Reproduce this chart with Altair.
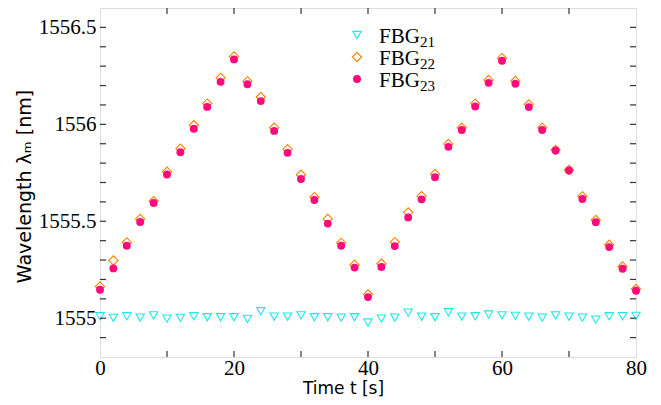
import altair as alt
import pandas as pd

# Time axis [s]
time_s = [0, 2, 4, 6, 8, 10, 12, 14, 16, 18, 20, 22, 24, 26, 28, 30, 32, 34, 36, 38, 40,
          42, 44, 46, 48, 50, 52, 54, 56, 58, 60, 62, 64, 66, 68, 70, 72, 74, 76, 78, 80]

fbg21 = [1555.010, 1555.002, 1555.010, 1555.003, 1555.015, 1554.998, 1555.002, 1555.010,
         1555.005, 1555.005, 1555.005, 1554.997, 1555.036, 1555.008, 1555.008, 1555.015,
         1555.005, 1555.005, 1555.003, 1555.005, 1554.978, 1554.998, 1555.003, 1555.029,
         1555.008, 1555.005, 1555.031, 1555.008, 1555.010, 1555.019, 1555.015, 1555.012,
         1555.008, 1555.003, 1555.015, 1555.008, 1555.003, 1554.993, 1555.010, 1555.010,
         1555.012]

fbg22 = [1555.164, 1555.298, 1555.391, 1555.512, 1555.604, 1555.756, 1555.875, 1555.996,
         1556.107, 1556.240, 1556.350, 1556.222, 1556.141, 1555.983, 1555.872, 1555.740,
         1555.625, 1555.512, 1555.389, 1555.276, 1555.123, 1555.281, 1555.393, 1555.546,
         1555.630, 1555.744, 1555.899, 1555.983, 1556.107, 1556.229, 1556.342, 1556.224,
         1556.103, 1555.983, 1555.868, 1555.765, 1555.629, 1555.507, 1555.379, 1555.267,
         1555.151]

fbg23 = [1555.147, 1555.257, 1555.374, 1555.496, 1555.594, 1555.741, 1555.856, 1555.977,
         1556.090, 1556.219, 1556.335, 1556.207, 1556.120, 1555.966, 1555.853, 1555.718,
         1555.610, 1555.488, 1555.374, 1555.261, 1555.109, 1555.264, 1555.372, 1555.520,
         1555.613, 1555.727, 1555.884, 1555.971, 1556.092, 1556.214, 1556.328, 1556.209,
         1556.089, 1555.971, 1555.865, 1555.762, 1555.615, 1555.495, 1555.367, 1555.255,
         1555.142]

x_label_values = [0, 20, 40, 60, 80]
y_label_values = [1555.0, 1555.5, 1556.0, 1556.5]
x_minor_ticks = [10, 20, 30, 40, 50, 60, 70]
y_minor_ticks = [1554.9, 1555.0, 1555.1, 1555.2, 1555.3, 1555.4, 1555.5, 1555.6, 1555.7,
                 1555.8, 1555.9, 1556.0, 1556.1, 1556.2, 1556.3, 1556.4, 1556.5]

legend_names = ["FBG", "FBG", "FBG"]
legend_subs = ["21", "22", "23"]

CYAN = "#1ee8e8"
ORANGE = "#ff8000"
PINK = "#ff0a7c"

W, H = 536, 349
X_DOM = [0, 80]
Y_DOM = [1554.8, 1556.6]

df = pd.DataFrame({"t": time_s, "fbg21": fbg21, "fbg22": fbg22, "fbg23": fbg23})

xs = alt.Scale(domain=X_DOM, nice=False, zero=False)
ys = alt.Scale(domain=Y_DOM, nice=False, zero=False)

x_axis = alt.Axis(values=x_label_values, ticks=False, domain=False, grid=False,
                  labelFont="Liberation Serif", labelFontSize=21, labelColor="black",
                  labelPadding=0, labelFlush=False,
                  title="Time t [s]", titleFont="DejaVu Sans", titleFontSize=17,
                  titleFontWeight="normal", titleColor="black",
                  titleX=243, titleY=31, titleBaseline="middle", titleAlign="center")
y_axis = alt.Axis(values=y_label_values, ticks=False, domain=False, grid=False,
                  format=".1~f",
                  labelFont="Liberation Serif", labelFontSize=21, labelColor="black",
                  labelPadding=4, labelFlush=False,
                  title="Wavelength  λₘ [nm]", titleFont="DejaVu Sans", titleFontSize=19,
                  titleFontWeight="normal", titleColor="black",
                  titleX=-76, titleY=178, titleAngle=270, titleBaseline="middle",
                  titleAlign="center")

base = alt.Chart(df)

p21 = base.mark_point(shape="triangle-down", filled=False, color=CYAN, size=70,
                      strokeWidth=1.1, opacity=1).encode(
    x=alt.X("t:Q", scale=xs, axis=x_axis),
    y=alt.Y("fbg21:Q", scale=ys, axis=y_axis),
)
p22 = base.mark_point(shape="diamond", filled=False, color=ORANGE, size=85,
                      strokeWidth=1.1, opacity=1).encode(
    x=alt.X("t:Q", scale=xs),
    y=alt.Y("fbg22:Q", scale=ys),
)
p23 = base.mark_point(shape="circle", filled=True, color=PINK, size=62, opacity=1).encode(
    x=alt.X("t:Q", scale=xs),
    y=alt.Y("fbg23:Q", scale=ys),
)

xt = alt.Chart(pd.DataFrame({"v": x_minor_ticks}))
yt = alt.Chart(pd.DataFrame({"v": y_minor_ticks}))
TICK = 6
tick_style = dict(color="#333333", strokeWidth=1.2)
ticks = [
    xt.mark_rule(**tick_style).encode(x=alt.X("v:Q", scale=xs), y=alt.value(H), y2=alt.value(H - TICK)),
    xt.mark_rule(**tick_style).encode(x=alt.X("v:Q", scale=xs), y=alt.value(0), y2=alt.value(TICK)),
    yt.mark_rule(**tick_style).encode(y=alt.Y("v:Q", scale=ys), x=alt.value(0), x2=alt.value(TICK)),
    yt.mark_rule(**tick_style).encode(y=alt.Y("v:Q", scale=ys), x=alt.value(W), x2=alt.value(W - TICK)),
]

# manual legend
leg_x_sym = 257
leg_x_txt = 279
leg_y0 = 27
leg_dy = 22
leg_df = pd.DataFrame({"name": legend_names, "sub": legend_subs})
legend_layers = []
sym_specs = [("triangle-down", False, CYAN, 70), ("diamond", False, ORANGE, 85), ("circle", True, PINK, 62)]
for i, (shape, filled, col, size) in enumerate(sym_specs):
    row = alt.Chart(leg_df.iloc[[i]])
    legend_layers.append(
        row.mark_point(shape=shape, filled=filled, color=col, size=size, strokeWidth=1.1, opacity=1)
        .encode(x=alt.value(leg_x_sym), y=alt.value(leg_y0 + i * leg_dy))
    )
    legend_layers.append(
        row.mark_text(font="Liberation Serif", fontSize=21, color="black", align="left",
                      baseline="alphabetic")
        .encode(text="name:N", x=alt.value(leg_x_txt), y=alt.value(leg_y0 + 8 + i * leg_dy))
    )
    legend_layers.append(
        row.mark_text(font="Liberation Serif", fontSize=15, color="black", align="left",
                      baseline="alphabetic")
        .encode(text="sub:N", x=alt.value(leg_x_txt + 41), y=alt.value(leg_y0 + 12 + i * leg_dy))
    )

chart = alt.layer(p21, p22, p23, *ticks, *legend_layers).properties(
    width=W, height=H,
    autosize=alt.AutoSizeParams(type="none"),
    padding={"left": 92, "top": 0, "right": 16, "bottom": 40},
).configure_view(stroke="#555555", strokeWidth=2).configure(background="white")

chart.save("out.html", embed_options={"renderer": "svg", "actions": False})
